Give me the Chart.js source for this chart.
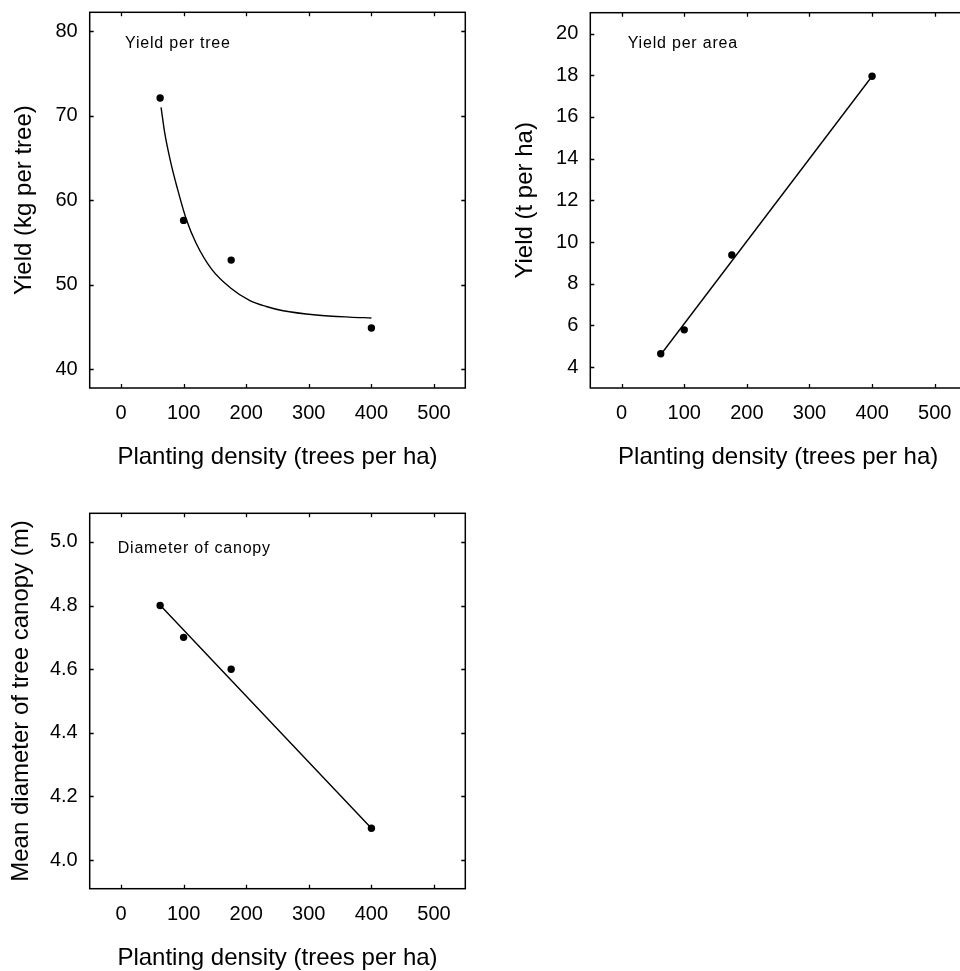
<!DOCTYPE html>
<html>
<head>
<meta charset="utf-8">
<script src="https://cdn.jsdelivr.net/npm/chart.js@4.4.1/dist/chart.umd.min.js"></script>
<style>
  html, body { margin: 0; padding: 0; background: #fff; overflow: hidden; width: 960px; height: 971px; }
  canvas { position: absolute; }
</style>
</head>
<body>
<canvas id="perTree" width="480" height="485" style="left:0;top:0"></canvas>
<canvas id="perArea" width="500" height="485" style="left:480px;top:0"></canvas>
<canvas id="canopy" width="480" height="501" style="left:0;top:485px"></canvas>
<script>
// planting densities (trees per ha)
const density = [62.5, 100, 176, 400];

// yield per tree (kg) and the fitted curve
const yieldPerTree = [72.1, 57.6, 52.9, 44.85];
const treeFitX = [64, 70, 80, 90, 104, 120, 145, 175, 206, 232, 259, 312, 365, 400];
const treeFitY = [71.0, 67.9, 64.3, 61.4, 57.8, 54.9, 51.8, 49.6, 48.1, 47.4, 46.9, 46.4, 46.15, 46.05];

// yield per area (t per ha) and its regression line
const yieldPerArea = [4.64, 5.79, 9.38, 17.95];
const areaFitX = [63, 400];
const areaFitY = [4.62, 17.95];

// mean canopy diameter (m) and its regression line
const canopyDiam = [4.80, 4.70, 4.60, 4.10];
const canopyFitX = [63, 400];
const canopyFitY = [4.80, 4.10];

// tick labels
const densityTicks = [0, 100, 200, 300, 400, 500];
const treeTicks = [40, 50, 60, 70, 80];
const areaTicks = [4, 6, 8, 10, 12, 14, 16, 18, 20];
const canopyTicks = [4.0, 4.2, 4.4, 4.6, 4.8, 5.0];

const FONT = '"Liberation Sans", Arial, sans-serif';

const pairs = (xs, ys) => xs.map((x, i) => ({x: x, y: ys[i]}));

// box round the plot, inward ticks on all four sides, panel caption
const frame = {
    id: 'frame',
    afterDraw(chart, args, opts) {
        const {ctx, chartArea: a, scales} = chart;
        ctx.save();
        ctx.strokeStyle = '#000';
        ctx.lineWidth = 1.5;
        ctx.strokeRect(a.left, a.top, a.right - a.left, a.bottom - a.top);
        ctx.lineWidth = 1.3;
        ctx.beginPath();
        scales.x.ticks.forEach(t => {
            const px = Math.round(scales.x.getPixelForValue(t.value)) + 0.5;
            ctx.moveTo(px, a.bottom); ctx.lineTo(px, a.bottom - 4);
            ctx.moveTo(px, a.top); ctx.lineTo(px, a.top + 4);
        });
        scales.y.ticks.forEach(t => {
            const py = Math.round(scales.y.getPixelForValue(t.value)) + 0.5;
            ctx.moveTo(a.left, py); ctx.lineTo(a.left + 4, py);
            ctx.moveTo(a.right, py); ctx.lineTo(a.right - 4, py);
        });
        ctx.stroke();
        ctx.fillStyle = '#000';
        ctx.font = '16px ' + FONT;
        ctx.letterSpacing = '0.8px';
        ctx.textBaseline = 'alphabetic';
        ctx.fillText(opts.text, a.left + opts.dx, a.top + opts.dy);
        ctx.restore();
    }
};

function makePanel(id, p) {
    return new Chart(document.getElementById(id), {
        type: 'scatter',
        data: {
            datasets: [
                {
                    data: pairs(density, p.values),
                    backgroundColor: '#000',
                    borderWidth: 0,
                    pointRadius: 3.7,
                    showLine: false,
                    order: 0
                },
                {
                    data: pairs(p.fitX, p.fitY),
                    showLine: true,
                    borderColor: '#000',
                    borderWidth: 1.4,
                    pointRadius: 0,
                    cubicInterpolationMode: 'monotone',
                    order: 1
                }
            ]
        },
        options: {
            responsive: false,
            animation: false,
            layout: { padding: p.padding },
            plugins: {
                legend: { display: false },
                tooltip: { enabled: false },
                frame: p.caption
            },
            scales: {
                x: {
                    min: -50, max: 550,
                    grid: { display: false, drawTicks: false },
                    border: { display: false },
                    afterBuildTicks: s => { s.ticks = densityTicks.map(v => ({value: v})); },
                    afterFit: s => { s.height = p.xHeight; s.paddingLeft = 0; s.paddingRight = 0; },
                    ticks: { color: '#000', font: { family: FONT, size: 20 }, padding: 13.5, maxRotation: 0 },
                    title: {
                        display: true,
                        text: 'Planting density (trees per ha)',
                        color: '#000',
                        font: { family: FONT, size: 24 },
                        padding: { top: 0, bottom: 13 }
                    }
                },
                y: {
                    min: p.yMin, max: p.yMax,
                    grid: { display: false, drawTicks: false },
                    border: { display: false },
                    afterBuildTicks: s => { s.ticks = p.ticks.map(v => ({value: v})); },
                    afterFit: s => { s.width = p.yWidth; s.paddingTop = 0; s.paddingBottom = 0; },
                    ticks: { color: '#000', font: { family: FONT, size: 20 }, padding: 12, callback: p.fmt },
                    title: {
                        display: true,
                        text: p.yTitle,
                        color: '#000',
                        font: { family: FONT, size: 24 },
                        padding: { top: p.yTitlePad, bottom: 0 }
                    }
                }
            }
        },
        plugins: [frame]
    });
}

makePanel('perTree', {
    values: yieldPerTree, fitX: treeFitX, fitY: treeFitY,
    yMin: 37.75, yMax: 82.25, ticks: treeTicks, fmt: v => String(v),
    yTitle: 'Yield (kg per tree)', yTitlePad: 10,
    padding: { top: 12.3, right: 14.7, left: 0, bottom: 0 },
    yWidth: 89.7, xHeight: 97,
    caption: { text: 'Yield per tree', dx: 35.3, dy: 35.4 }
});

makePanel('perArea', {
    values: yieldPerArea, fitX: areaFitX, fitY: areaFitY,
    yMin: 3, yMax: 21, ticks: areaTicks, fmt: v => String(v),
    yTitle: 'Yield (t per ha)', yTitlePad: 30.5,
    padding: { top: 12.7, right: 14, left: 0, bottom: 0 },
    yWidth: 110.3, xHeight: 97,
    caption: { text: 'Yield per area', dx: 37.4, dy: 35 }
});

makePanel('canopy', {
    values: canopyDiam, fitX: canopyFitX, fitY: canopyFitY,
    yMin: 3.91, yMax: 5.09, ticks: canopyTicks, fmt: v => v.toFixed(1),
    yTitle: 'Mean diameter of tree canopy (m)', yTitlePad: 7,
    padding: { top: 28.3, right: 14.7, left: 0, bottom: 0 },
    yWidth: 89.7, xHeight: 97.3,
    caption: { text: 'Diameter of canopy', dx: 28, dy: 40 }
});
</script>
</body>
</html>
